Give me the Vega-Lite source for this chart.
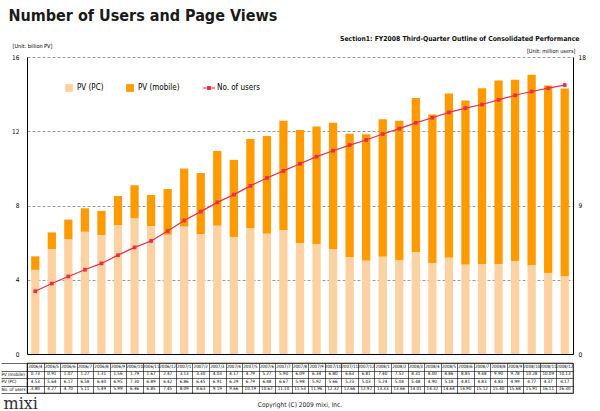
{
  "$schema": "https://vega.github.io/schema/vega-lite/v6.json",
  "padding": {"left": 0, "top": 8, "right": 5, "bottom": 0},
  "background": "white",
  "title": {"text": "Number of Users and Page Views", "anchor": "start", "fontSize": 16, "fontWeight": "bold", "color": "#1a1a1a", "offset": 12, "dx": 8},
  "datasets": {
    "d": [
      {"month": "2006/4", "mobile": 0.73, "pc": 4.53, "users": 3.80},
      {"month": "2006/5", "mobile": 0.91, "pc": 5.64, "users": 4.27},
      {"month": "2006/6", "mobile": 1.07, "pc": 6.17, "users": 4.70},
      {"month": "2006/7", "mobile": 1.27, "pc": 6.58, "users": 5.11},
      {"month": "2006/8", "mobile": 1.31, "pc": 6.40, "users": 5.49},
      {"month": "2006/9", "mobile": 1.56, "pc": 6.95, "users": 5.99},
      {"month": "2006/10", "mobile": 1.79, "pc": 7.30, "users": 6.46},
      {"month": "2006/11", "mobile": 1.67, "pc": 6.89, "users": 6.85},
      {"month": "2006/12", "mobile": 2.47, "pc": 6.42, "users": 7.45},
      {"month": "2007/1", "mobile": 3.13, "pc": 6.86, "users": 8.09},
      {"month": "2007/2", "mobile": 3.30, "pc": 6.45, "users": 8.63},
      {"month": "2007/3", "mobile": 4.03, "pc": 6.91, "users": 9.19},
      {"month": "2007/4", "mobile": 4.17, "pc": 6.29, "users": 9.66},
      {"month": "2007/5", "mobile": 4.79, "pc": 6.79, "users": 10.19},
      {"month": "2007/6", "mobile": 5.27, "pc": 6.48, "users": 10.67},
      {"month": "2007/7", "mobile": 5.90, "pc": 6.67, "users": 11.10},
      {"month": "2007/8", "mobile": 6.09, "pc": 5.98, "users": 11.53},
      {"month": "2007/9", "mobile": 6.34, "pc": 5.92, "users": 11.96},
      {"month": "2007/10", "mobile": 6.80, "pc": 5.66, "users": 12.32},
      {"month": "2007/11", "mobile": 6.63, "pc": 5.23, "users": 12.66},
      {"month": "2007/12", "mobile": 6.81, "pc": 5.03, "users": 12.97},
      {"month": "2008/1", "mobile": 7.40, "pc": 5.24, "users": 13.33},
      {"month": "2008/2", "mobile": 7.52, "pc": 5.04, "users": 13.66},
      {"month": "2008/3", "mobile": 8.31, "pc": 5.48, "users": 14.01},
      {"month": "2008/4", "mobile": 8.00, "pc": 4.90, "users": 14.32},
      {"month": "2008/5", "mobile": 8.86, "pc": 5.18, "users": 14.64},
      {"month": "2008/6", "mobile": 8.85, "pc": 4.81, "users": 14.90},
      {"month": "2008/7", "mobile": 9.48, "pc": 4.83, "users": 15.12},
      {"month": "2008/8", "mobile": 9.90, "pc": 4.83, "users": 15.40},
      {"month": "2008/9", "mobile": 9.78, "pc": 4.99, "users": 15.68},
      {"month": "2008/10", "mobile": 10.28, "pc": 4.77, "users": 15.91},
      {"month": "2008/11", "mobile": 10.09, "pc": 4.37, "users": 16.11},
      {"month": "2008/12", "mobile": 10.13, "pc": 4.17, "users": 16.30}
    ]
  },
  "spacing": 1,
  "vconcat": [
    {
      "width": 546,
      "height": 297,
      "data": {"name": "d"},
      "title": {"text": "Section1: FY2008 Third-Quarter Outline of Consolidated Performance", "anchor": "end", "fontSize": 6.8, "fontWeight": "bold", "color": "#111", "offset": 0, "dx": -6},
      "view": {"stroke": null},
      "layer": [
        {
          "transform": [{"fold": ["mobile", "pc"], "as": ["series", "pv"]}],
          "mark": {"type": "bar"},
          "encoding": {
            "x": {"field": "month", "type": "nominal", "sort": null,
                  "scale": {"paddingInner": 0.5, "paddingOuter": 0.25},
                  "axis": {"labels": false, "ticks": false, "title": null, "domainColor": "#000", "domainWidth": 1}},
            "y": {"field": "pv", "type": "quantitative", "stack": "zero",
                  "scale": {"domain": [0, 16]},
                  "axis": {"values": [0, 4, 8, 12, 16], "title": "[Unit: billion PV]", "titleAngle": 0, "titleX": -15, "titleY": -12, "titleAlign": "left", "titleBaseline": "middle", "titleFontSize": 5.5, "titleFontWeight": "normal",
                           "grid": true, "gridDash": [3, 2], "gridColor": "#555", "gridWidth": 0.6, "ticks": false, "labelPadding": 8, "domainColor": "#000", "domainWidth": 1}},
            "color": {"field": "series", "type": "nominal",
                      "scale": {"domain": ["pc", "mobile", "users"], "range": ["#FCD2A2", "#FF9A00", "#E4304A"]},
                      "legend": {"title": null, "orient": "none", "legendX": 38, "legendY": 27, "direction": "horizontal", "columnPadding": 22, "symbolSize": 60, "labelFontSize": 8, "symbolStrokeWidth": 0,
                                 "labelExpr": "datum.value == 'pc' ? 'PV (PC)' : datum.value == 'mobile' ? 'PV (mobile)' : 'No. of users'",
                                 "encode": {"symbols": {"update": {"shape": {"signal": "datum.value == 'users' ? 'M-1.6,-0.12H1.6V0.12H-1.6Z M-0.5,-0.5H0.5V0.5H-0.5Z' : 'square'"}}}}}},
            "order": {"field": "series", "sort": "descending"}
          }
        },
        {
          "mark": {"type": "line", "strokeWidth": 1.2, "point": {"shape": "square", "size": 14, "filled": true, "color": "#D80000"}},
          "encoding": {
            "x": {"field": "month", "type": "nominal", "sort": null},
            "y": {"field": "users", "type": "quantitative",
                  "scale": {"domain": [0, 18]},
                  "axis": {"orient": "right", "values": [0, 9, 18], "grid": false, "ticks": false, "labelPadding": 5, "domainColor": "#000", "domainWidth": 1,
                           "title": "[Unit: million users]", "titleAngle": 0, "titleX": 2, "titleY": -7, "titleAlign": "right", "titleBaseline": "middle", "titleFontSize": 5.5, "titleFontWeight": "normal"}},
            "color": {"datum": "users"}
          }
        }
      ],
      "resolve": {"scale": {"y": "independent"}}
    },
    {
      "width": 546,
      "height": 30,
      "data": {"name": "d"},
      "view": {"stroke": "#000", "strokeWidth": 0.6},
      "title": {"text": "Copyright (C) 2009 mixi, Inc.", "orient": "bottom", "anchor": "middle", "fontSize": 6.5, "fontWeight": "normal", "color": "#222", "offset": -9},
      "encoding": {
        "x": {"field": "month", "type": "nominal", "sort": null,
              "scale": {"paddingInner": 0, "paddingOuter": 0},
              "axis": {"labels": false, "ticks": false, "domain": false, "grid": true, "tickBand": "extent", "gridColor": "#000", "gridWidth": 0.6,
                       "title": "mixi", "titleAnchor": "start", "titleX": -24, "titleY": 15, "titleAlign": "left", "titleBaseline": "alphabetic", "titleFontSize": 16, "titleFont": "DejaVu Serif", "titleFontWeight": "normal", "titleColor": "#333"}}
      },
      "layer": [
        {
          "mark": {"type": "text", "fontSize": 4.5, "color": "#000"},
          "encoding": {
            "y": {"datum": "month", "title": null},
            "text": {"field": "month"}
          }
        },
        {
          "transform": [{"fold": ["mobile", "pc", "users"], "as": ["row", "val"]}],
          "mark": {"type": "text", "fontSize": 4.5, "color": "#000"},
          "encoding": {
            "y": {"field": "row", "type": "nominal", "title": null,
                  "scale": {"domain": ["month", "mobile", "pc", "users"], "paddingInner": 0, "paddingOuter": 0},
                  "axis": {"title": null, "tickBand": "extent", "ticks": true, "tickSize": 26, "tickColor": "#000", "tickWidth": 0.6, "grid": true, "gridColor": "#000", "gridWidth": 0.6,
                           "labelAlign": "left", "labelPadding": 0, "labelFontSize": 4.5, "domainColor": "#000", "domainWidth": 0.6,
                           "labelExpr": "datum.value == 'mobile' ? 'PV (mobile)' : datum.value == 'pc' ? 'PV (PC)' : datum.value == 'users' ? 'No. of users' : ''"}},
            "text": {"field": "val", "type": "quantitative", "format": ".2f"}
          }
        }
      ]
    }
  ],
  "config": {
    "font": "DejaVu Sans Condensed, Liberation Sans, sans-serif",
    "axis": {"labelFontSize": 6.5, "labelColor": "#000"},
    "legend": {"labelColor": "#000"}
  }
}
